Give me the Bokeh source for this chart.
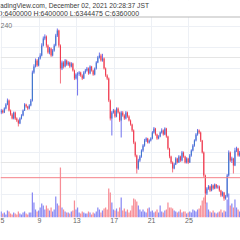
from bokeh.plotting import figure
from bokeh.models import Range1d, FixedTicker, Grid, Label, Span, ColumnDataSource, BoxAnnotation
from bokeh.embed import file_html
from bokeh.resources import INLINE

# ---- data (BTC/JPY, 4h candles, prices in thousand JPY) ----
first_open = 6980
closes = [7000,
    6981, 7019, 7057, 7095, 7000, 6962,
    6924, 6981, 6924, 6905, 6876, 6924,
    6952, 7000, 7057, 7038, 7019, 7048,
    7095, 7362, 7419, 7476, 7429, 7495,
    7524, 7619, 7686, 7705, 7619, 7552,
    7590, 7524, 7571, 7619, 7714, 7762,
    7619, 7400, 7457, 7419, 7476, 7438,
    7457, 7419, 7448, 7381, 7305, 7343,
    7350, 7362, 7333, 7305, 7362, 7381,
    7400, 7352, 7419, 7381, 7343, 7400,
    7457, 7505, 7524, 7476, 7495, 7400,
    7333, 7305, 7095, 6924, 6981, 7000,
    6943, 7019, 6981, 6905, 6981, 6952,
    6924, 6981, 6943, 6905, 6867, 6810,
    6695, 6571, 6448, 6524, 6562, 6619,
    6667, 6714, 6733, 6695, 6714, 6733,
    6790, 6829, 6771, 6733, 6752, 6790,
    6810, 6771, 6829, 6752, 6638, 6562,
    6505, 6448, 6486, 6543, 6505, 6562,
    6524, 6600, 6562, 6505, 6543, 6505,
    6571, 6619, 6667, 6714, 6771, 6810,
    6790, 6714, 6600, 6381, 6210, 6257,
    6276, 6238, 6286, 6257, 6295, 6267,
    6276, 6238, 6190, 6219, 6162, 6181,
    6381, 6600, 6524, 6543, 6476, 6619,
    6638, 6571, 6600]
highs = [7015,
    7010, 7030, 7070, 7114, 7105, 7010,
    6975, 6990, 6990, 6935, 6915, 6935,
    6965, 7010, 7070, 7065, 7045, 7060,
    7110, 7380, 7440, 7495, 7490, 7510,
    7545, 7640, 7705, 7725, 7715, 7630,
    7605, 7600, 7585, 7635, 7730, 7781,
    7770, 7630, 7475, 7470, 7490, 7485,
    7470, 7465, 7460, 7455, 7390, 7355,
    7365, 7375, 7370, 7345, 7375, 7395,
    7415, 7410, 7430, 7425, 7390, 7410,
    7470, 7520, 7552, 7540, 7540, 7505,
    7410, 7345, 7315, 7105, 6995, 7015,
    7010, 7030, 7030, 6990, 6995, 6995,
    6965, 6995, 6990, 6955, 6915, 6875,
    6820, 6705, 6580, 6540, 6575, 6630,
    6680, 6730, 6745, 6740, 6725, 6745,
    6805, 6843, 6835, 6780, 6765, 6800,
    6830, 6820, 6840, 6835, 6760, 6645,
    6570, 6515, 6500, 6555, 6550, 6575,
    6570, 6615, 6610, 6570, 6555, 6550,
    6585, 6630, 6680, 6725, 6785, 6824,
    6820, 6800, 6720, 6610, 6390, 6270,
    6290, 6285, 6300, 6295, 6305, 6300,
    6290, 6285, 6245, 6230, 6225, 6195,
    6395, 6620, 6610, 6560, 6550, 6645,
    6655, 6645, 6615]
lows = [6965,
    6970, 6975, 7010, 7050, 6990, 6950,
    6915, 6915, 6910, 6890, 6848, 6870,
    6915, 6945, 6995, 7025, 7005, 7010,
    7040, 7085, 7350, 7410, 7415, 7420,
    7485, 7515, 7610, 7670, 7600, 7540,
    7535, 7510, 7515, 7560, 7610, 7700,
    7600, 7257, 7385, 7400, 7410, 7425,
    7425, 7405, 7410, 7370, 7290, 7295,
    7143, 7330, 7320, 7290, 7300, 7350,
    7370, 7340, 7345, 7370, 7330, 7335,
    7390, 7450, 7495, 7465, 7465, 7390,
    7320, 7290, 7080, 6905, 6762, 6970,
    6930, 6935, 6970, 6890, 6743, 6940,
    6910, 6915, 6930, 6895, 6855, 6795,
    6680, 6555, 6400, 6435, 6510, 6550,
    6605, 6655, 6700, 6685, 6685, 6705,
    6725, 6780, 6760, 6720, 6725, 6745,
    6780, 6760, 6765, 6740, 6625, 6545,
    6490, 6410, 6440, 6480, 6495, 6500,
    6510, 6515, 6550, 6495, 6495, 6490,
    6500, 6560, 6610, 6655, 6705, 6760,
    6775, 6700, 6590, 6360, 6114, 6195,
    6245, 6225, 6230, 6245, 6250, 6255,
    6255, 6225, 6175, 6180, 6140, 6150,
    6170, 6370, 6510, 6500, 6400, 6470,
    6605, 6560, 6560]
volumes = [6,
    4, 5, 3, 7, 6, 4,
    3, 5, 4, 3, 6, 4,
    3, 5, 6, 4, 3, 5,
    5, 25, 15, 8, 6, 7,
    10, 14, 12, 8, 12, 9,
    7, 10, 6, 8, 21, 14,
    12, 50, 10, 8, 6, 5,
    5, 4, 6, 7, 17, 8,
    10, 5, 4, 6, 5, 4,
    4, 6, 5, 3, 5, 4,
    6, 10, 8, 5, 7, 9,
    10, 8, 29, 25, 15, 8,
    7, 9, 6, 10, 20, 7,
    9, 6, 8, 5, 7, 12,
    19, 18, 16, 12, 8, 6,
    8, 6, 5, 9, 10, 6,
    7, 5, 6, 8, 5, 12,
    6, 5, 7, 8, 15, 10,
    10, 9, 7, 6, 5, 6,
    8, 5, 6, 6, 4, 5,
    6, 5, 8, 7, 6, 8,
    9, 12, 17, 20, 22, 15,
    8, 6, 5, 7, 5, 4,
    5, 6, 8, 5, 7, 6,
    18, 24, 12, 14, 10, 18,
    10, 8, 6]
first_day = 4 + 20 / 24          # Nov 4, 20:00 (first candle start)
candle_days = 4 / 24             # 4h candles
tick_days = [5, 9, 13, 17, 21, 25]
price_grid = [6000000, 6200000, 6400000, 6600000, 6800000,
              7000000, 7200000, 7400000, 7600000, 7800000]
last_price = 6360000
header1 = "TradingView.com, December 02, 2021 20:28:37 JST"
header2 = "O:6400000 H:6400000 L:6344475 C:6360000"
interval = "240"

# ---- derived columns ----
n = len(closes)
opens = [first_open] + closes[:-1]
t = [first_day + candle_days * (i + 0.5) for i in range(n)]
up = [c >= o for o, c in zip(opens, closes)]
src = ColumnDataSource(dict(
    t=t,
    h=[v * 1000 for v in highs], l=[v * 1000 for v in lows],
    top=[max(a, b) * 1000 for a, b in zip(opens, closes)],
    bot=[min(a, b) * 1000 for a, b in zip(opens, closes)],
    vol=volumes,
    body=["#3f78cc" if u else "#ef3a4f" for u in up],
    wick=["#6f70ee" if u else "#f4707d" for u in up],
    vcol=["#8a8af4" if u else "#f78d96" for u in up],
))

p = figure(width=240, height=240, output_backend="svg", toolbar_location=None,
           x_range=Range1d(4.84, 30.51), y_range=Range1d(5980952, 8047619),
           y_axis_location=None, min_border_left=0, min_border_right=0,
           min_border_top=0, min_border_bottom=23)
p.extra_y_ranges = {"vol": Range1d(0, 217)}
p.outline_line_color = None
p.background_fill_color = "white"
p.border_fill_color = "white"

p.xaxis.ticker = FixedTicker(ticks=tick_days)
p.xgrid.ticker = FixedTicker(ticks=tick_days)
p.xgrid.grid_line_color = "#edf0f5"
p.xaxis.axis_line_color = None
p.xaxis.major_tick_line_color = None
p.xaxis.minor_tick_line_color = None
p.xaxis.major_tick_out = 0
p.xaxis.major_tick_in = 0
p.xaxis.major_label_standoff = 0
p.xaxis.major_label_text_font_size = "7px"
p.xaxis.major_label_text_color = "#666666"
p.xaxis.major_label_text_font = "Liberation Sans"
p.add_layout(Grid(dimension=1, ticker=FixedTicker(ticks=price_grid),
                  grid_line_color="#edf0f5"))

p.vbar(x="t", top="vol", bottom=0, width=candle_days * 0.8, source=src,
       y_range_name="vol", fill_color="vcol", line_color=None)
p.segment(x0="t", y0="l", x1="t", y1="h", line_color="wick", line_width=1, source=src)
p.vbar(x="t", top="top", bottom="bot", width=candle_days * 0.7, source=src,
       fill_color="body", line_color=None)

p.add_layout(Span(location=last_price, dimension="width", line_color="#f48088", line_width=1))
# header strip above the pane
p.add_layout(BoxAnnotation(top=0, bottom=16.5, top_units="canvas", bottom_units="canvas",
                           fill_color="white", fill_alpha=1.0, line_color=None))
p.add_layout(Span(location=16.5, location_units="canvas", dimension="width",
                  line_color="#b9b9b9", line_width=1))
p.add_layout(Span(location=228.5, location_units="canvas", dimension="width",
                  line_color="#d0d0d0", line_width=1))

for txt, x, y, size, col in [(header1, -6.5, 5, "6.7px", "#3a3a3a"),
                             (header2, -3.5, 12.5, "7px", "#3a3a3a"),
                             (interval, 0, 25, "7px", "#777777")]:
    p.add_layout(Label(x=x, y=y, x_units="canvas", y_units="canvas", text=txt,
                       text_font_size=size, text_baseline="middle",
                       text_color=col, text_font="Liberation Sans"))

open("out.html", "w").write(file_html(p, INLINE))
